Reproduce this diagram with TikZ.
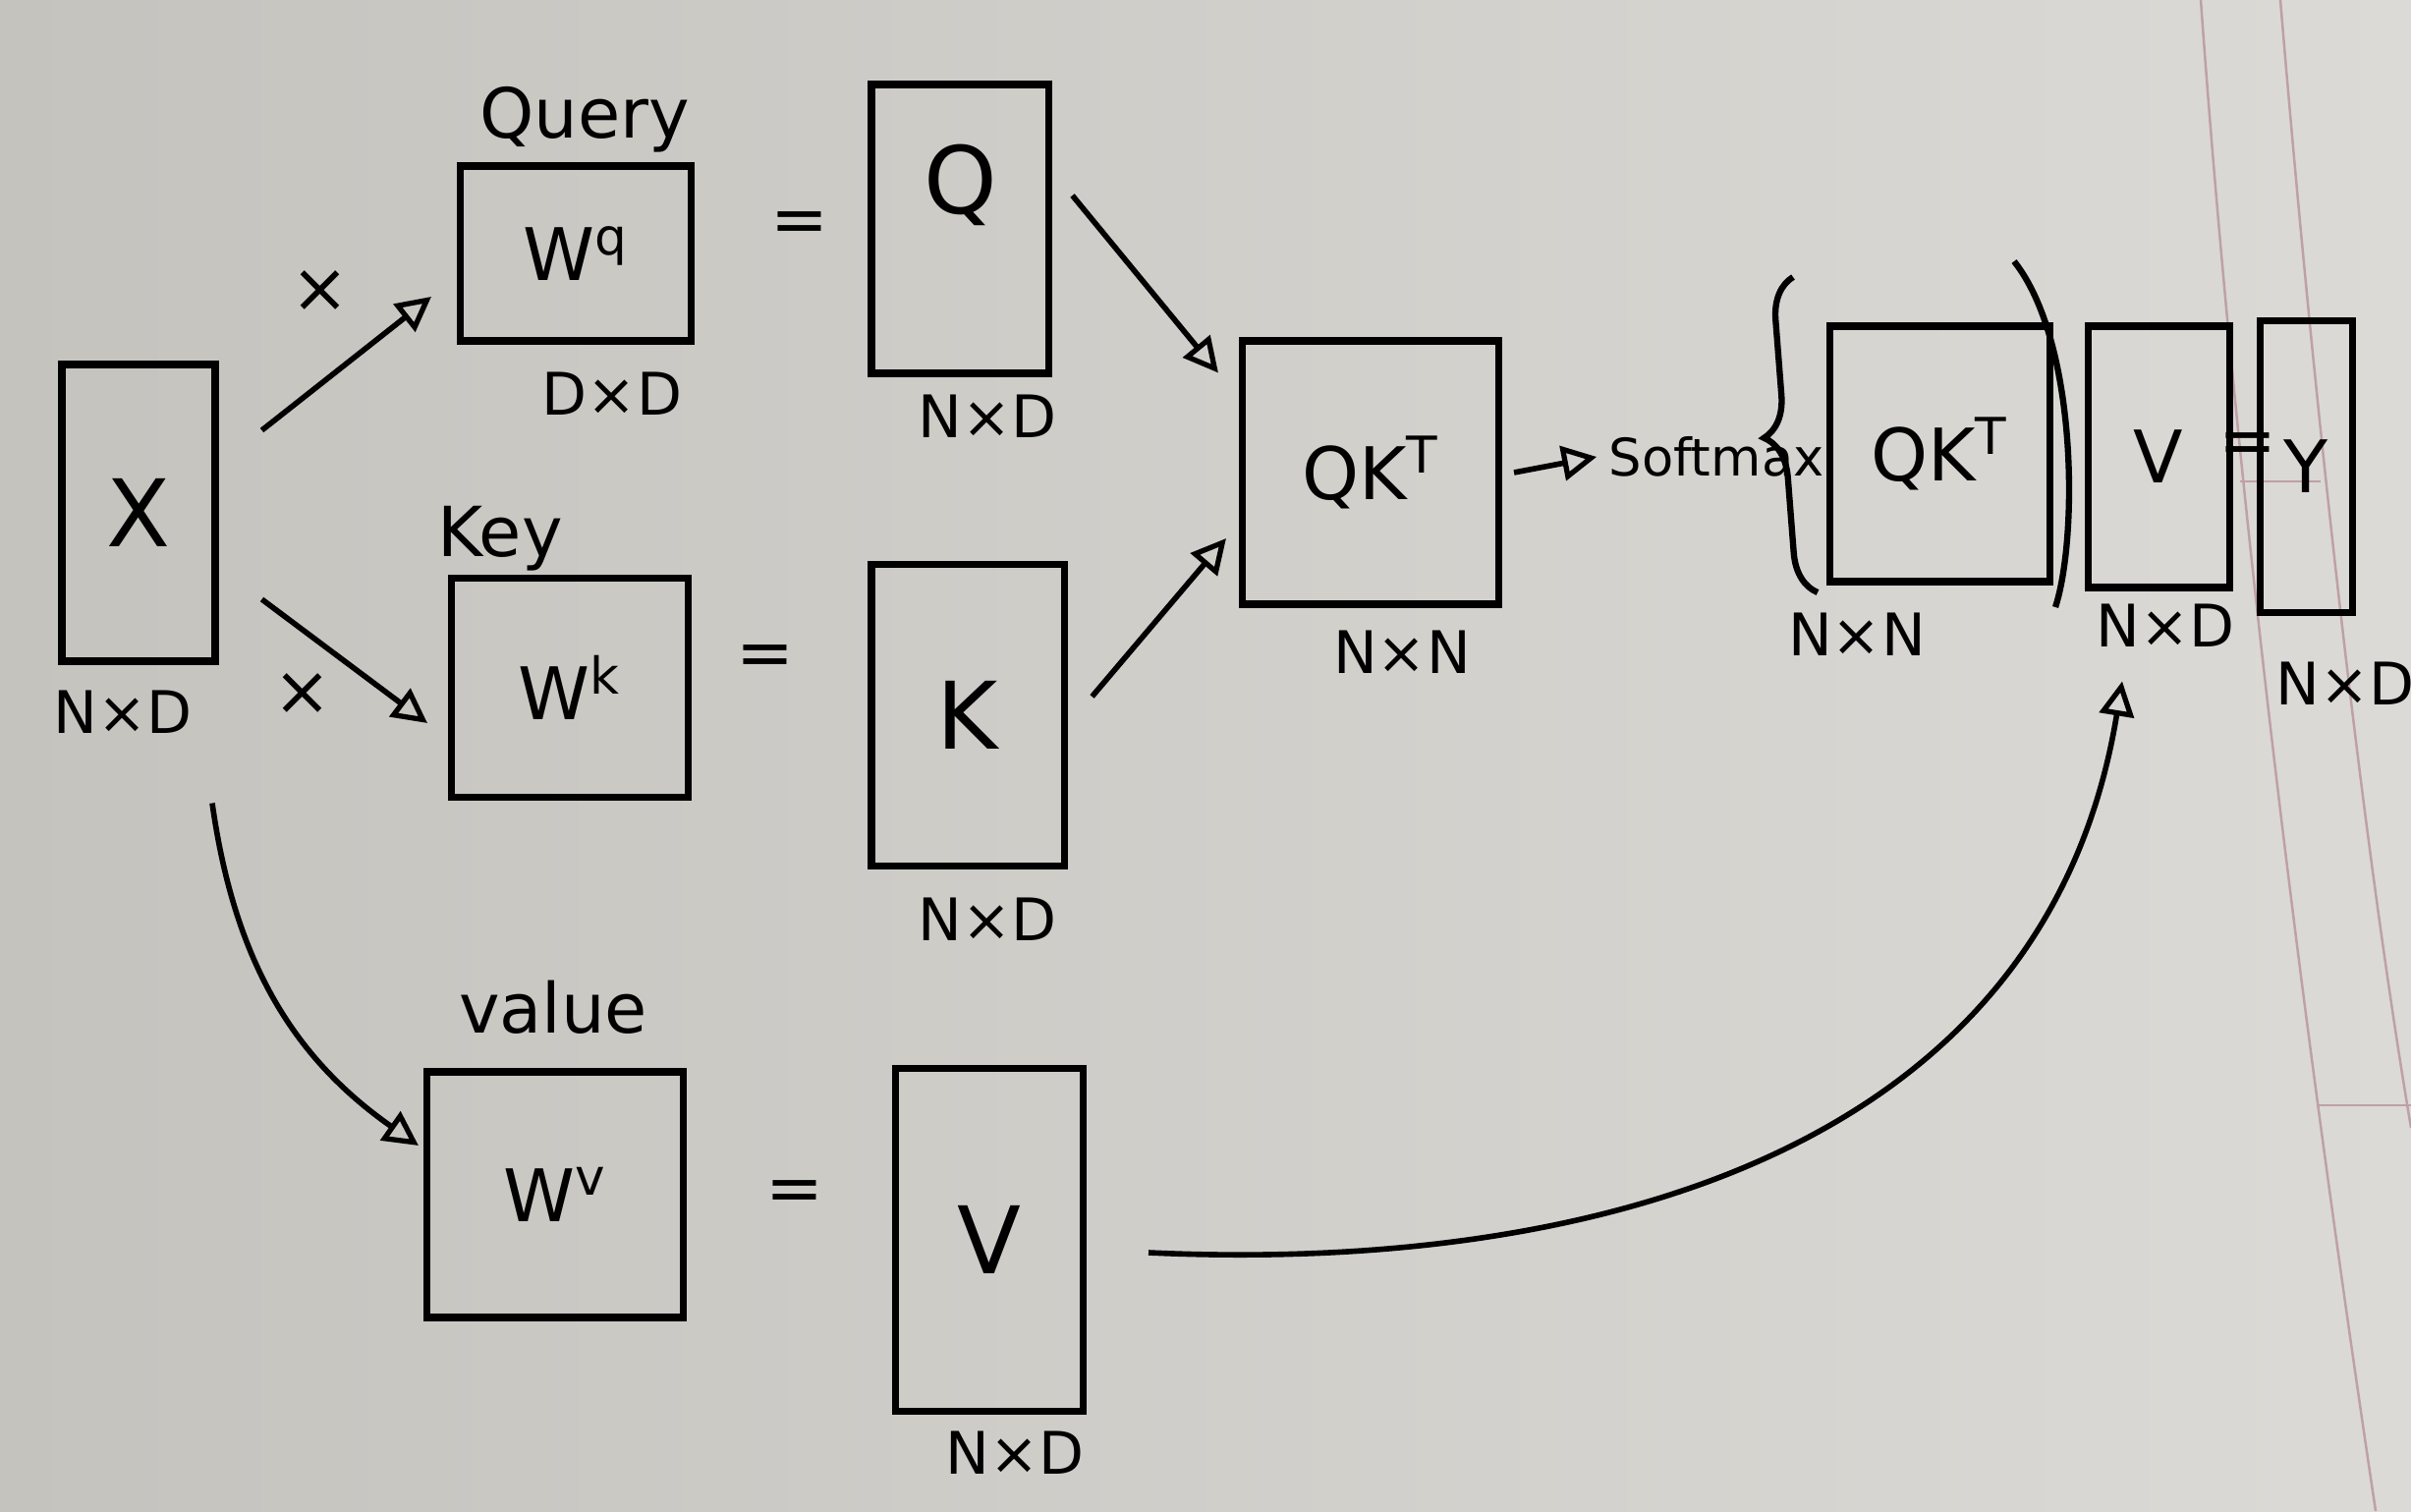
\documentclass[tikz,border=0pt]{standalone}
\usepackage{fontspec}
\setmainfont{DejaVu Sans}
\usepackage{tikz}
\usetikzlibrary{arrows.meta}
\usetikzlibrary{positioning, decorations.pathreplacing}

\definecolor{paperL}{RGB}{196,195,190}
\definecolor{paperR}{RGB}{219,218,214}
\definecolor{margin}{RGB}{190,160,166}

\begin{document}
\begin{tikzpicture}[mat/.style={draw=black, line width=2pt, inner sep=0pt},
                   sym/.style={font=\fontsize{27}{29}\selectfont},
                   wt/.style={font=\fontsize{21}{23}\selectfont},
                   dim/.style={font=\fontsize{17}{19}\selectfont},
                   word/.style={font=\fontsize{20}{22}\selectfont},
                   arr/.style={line width=1.6pt, -{Triangle[open, length=10pt, width=10pt, line width=1.5pt]}}]
\useasboundingbox (0,0) rectangle (24.54,15.38);
% paper
\shade[left color=paperL, right color=paperR] (0,0) rectangle (24.54,15.38);
\draw[margin, line width=0.7pt] (22.40,15.38) .. controls (22.75,10.5) and (23.40,5.2) .. (24.18,0);
\draw[margin, line width=0.7pt] (23.21,15.38) .. controls (23.60,10.7) and (24.10,6.5) .. (24.54,3.9);
\draw[margin, line width=0.5pt] (22.80,10.48) -- (23.62,10.48);
\draw[margin, line width=0.5pt] (23.60,4.13) -- (24.54,4.13);

% input
\node[mat, minimum width=1.56cm, minimum height=3.02cm, sym] (X) at (1.41,10.16) {X};
\node[dim] (Xd) at (1.25,8.13) {N×D};

% query
\node[mat, minimum width=2.35cm, minimum height=1.78cm, wt] (Wq) at (5.86,12.80) {W\textsuperscript{q}};
\node[word] (Wqt) at (5.95,14.16) {Query};
\node[dim] (Wqd) at (6.23,11.37) {D×D};
\node[word] (eq1) at (8.14,13.06) {=};
\node[mat, minimum width=1.80cm, minimum height=2.94cm] (Q) at (9.77,13.05) {};
\node[sym] (Qt) at (9.78,13.50) {Q};
\node[dim] (Qd) at (10.05,11.14) {N×D};

% key
\node[mat, minimum width=2.41cm, minimum height=2.23cm, wt] (Wk) at (5.80,8.38) {W\textsuperscript{k}};
\node[word] (Wkt) at (5.09,9.90) {Key};
\node[word] (eq2) at (7.79,8.65) {=};
\node[mat, minimum width=1.96cm, minimum height=3.07cm, sym] (K) at (9.85,8.10) {K};
\node[dim] (Kd) at (10.05,6.02) {N×D};

% value
\node[mat, minimum width=2.61cm, minimum height=2.50cm, wt] (Wv) at (5.65,3.22) {W\textsuperscript{v}};
\node[word] (Wvt) at (5.63,5.13) {value};
\node[word] (eq3) at (8.09,3.20) {=};
\node[mat, minimum width=1.91cm, minimum height=3.49cm, sym] (V) at (10.07,2.76) {V};
\node[dim] (Vd) at (10.33,0.59) {N×D};

% scores
\node[mat, minimum width=2.61cm, minimum height=2.68cm, wt] (QKt) at (13.95,10.57) {QK\textsuperscript{T}};
\node[dim] (QKtd) at (14.27,8.74) {N×N};
\node[dim, font=\fontsize{15}{17}\selectfont] (sm) at (17.47,10.73) {Softmax};

% output
\node[mat, minimum width=2.24cm, minimum height=2.60cm, wt] (QKs) at (19.74,10.76) {QK\textsuperscript{T}};
\node[dim] (QKsd) at (18.90,8.92) {N×N};
\node[mat, minimum width=1.44cm, minimum height=2.66cm, wt] (Vs) at (21.97,10.73) {V};
\node[dim] (Vsd) at (22.04,9.01) {N×D};
\node[word] (eq4) at (22.88,10.81) {=};
\node[mat, minimum width=0.94cm, minimum height=2.97cm, wt] (Y) at (23.47,10.63) {Y};
\node[dim] (Yd) at (23.87,8.42) {N×D};

\draw[line width=1.8pt, decorate, decoration={brace, amplitude=12pt}] (18.50,9.35) -- (18.25,12.56);
\draw[line width=1.8pt] (20.50,12.72) .. controls (21.15,11.9) and (21.15,9.9) .. (20.92,9.20);

% arrows
\draw[arr] ([shift={(0.44,0.84)}]X.east) -- ([shift={(-0.26,-0.44)}]Wq.west);
\node[word] (m1) at (3.26,12.41) {×};
\draw[arr] ([shift={(0.44,-0.88)}]X.east) -- ([shift={(-0.21,-0.36)}]Wk.west);
\node[word] (m2) at (3.08,8.31) {×};
\draw[arr] ([shift={(0.75,-1.41)}]X.south) to[out=-82, in=145] ([shift={(-0.05,0.50)}]Wv.west);
\draw[arr] ([shift={(0.21,0.34)}]Q.east) -- ([shift={(-0.21,-0.36)}]QKt.north west);
\draw[arr] ([shift={(0.25,0.19)}]K.east) -- ([shift={(-0.13,-0.67)}]QKt.west);
\draw[arr] ([xshift=0.12cm]QKt.east) -- (sm.west);
\draw[arr] ([shift={(0.63,-0.13)}]V.east) .. controls +(4.3,-0.2) and +(-0.8,-4.9) .. ([shift={(-0.37,-0.92)}]Vs.south);
\end{tikzpicture}
\end{document}
